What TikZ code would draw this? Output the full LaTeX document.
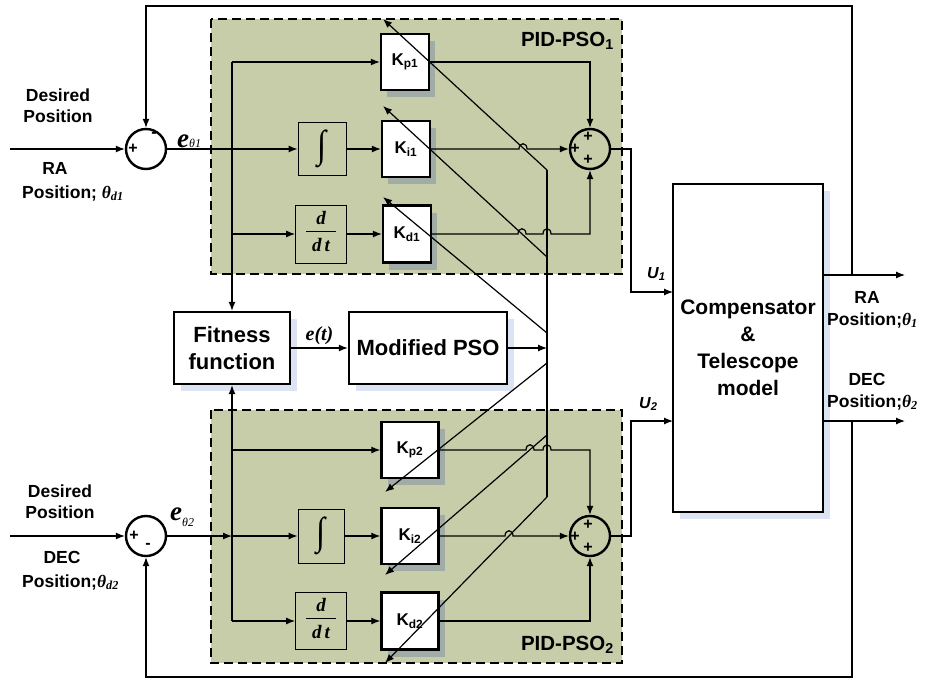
\documentclass[tikz,border=0pt]{standalone}
\usepackage{fontspec}
\usepackage{graphicx}
\setmainfont{Liberation Sans}
\newfontfamily\tms{Liberation Serif}
\usetikzlibrary{arrows.meta,shadows}
\definecolor{pidgreen}{RGB}{198,205,168}
\definecolor{greenshade}{RGB}{160,172,165}
\definecolor{blueshade}{RGB}{220,227,242}
\newcommand{\thv}[1]{{\tms\itshape θ}\textsubscript{\tms\itshape #1}}
\newcommand{\ddt}{\tms\bfseries\itshape\fontsize{19}{19}\selectfont
  \begin{tabular}{@{\hspace{6pt}}c@{\hspace{6pt}}}d\rule[-7pt]{0pt}{7pt}\\\hline\rule{0pt}{20pt}d\,t\end{tabular}}
\newcommand{\intg}{\resizebox*{9pt}{38pt}{\tms ∫}}

\tikzset{
  wire/.style={line width=1.2pt},
  arr/.style={wire,-{Latex[length=9pt,width=7pt]}},
  gainbox/.style={draw,line width=2.4pt,fill=white,inner sep=0pt,
    font=\bfseries\fontsize{17}{17}\selectfont,
    drop shadow={shadow xshift=6pt,shadow yshift=-7pt,fill=greenshade,opacity=1}},
  opbox/.style={draw,line width=0.8pt,fill=pidgreen,inner sep=0pt},
  bigbox/.style={draw,line width=2.4pt,fill=white,align=center,
    font=\bfseries\fontsize{22}{27}\selectfont,
    drop shadow={shadow xshift=7pt,shadow yshift=-7pt,fill=blueshade,opacity=1}},
  sumnode/.style={circle,draw,line width=2.4pt,minimum size=40,inner sep=0pt},
  sign/.style={font=\bfseries\fontsize{16}{16}\selectfont,inner sep=0pt},
  lab/.style={font=\bfseries\fontsize{17.5}{21}\selectfont,inner sep=0pt,align=center},
  pidbox/.style={fill=pidgreen,draw,line width=1.6pt,dash pattern=on 9pt off 5pt},
  pidlab/.style={font=\bfseries\fontsize{20.5}{20.5}\selectfont,inner sep=0pt,anchor=base east},
  ulab/.style={font=\bfseries\itshape\fontsize{16}{16}\selectfont,inner sep=0pt,anchor=base west}
}

\begin{document}
\begin{tikzpicture}[x=1pt,y=-1pt]
  \useasboundingbox (0,0) rectangle (944,680);

  % PID-PSO areas
  \draw[pidbox] (211,19) rectangle (622,274);
  \draw[pidbox] (211,410) rectangle (622,663);
  \node[pidlab] (pid1) at (614,46) {PID-PSO\textsubscript{1}};
  \node[pidlab] (pid2) at (614,650) {PID-PSO\textsubscript{2}};

  % blocks
  \node[sumnode,fill=white] (sum1) at (146,149) {};
  \node[sumnode,fill=white] (sum2) at (146,536) {};
  \node[sumnode] (add1) at (590,149) {};
  \node[sumnode] (add2) at (590,536) {};

  \node[opbox,minimum width=48,minimum height=53] (int1) at (322,149) {\intg};
  \node[opbox,minimum width=51,minimum height=58] (der1) at (321,234) {\ddt};
  \node[opbox,minimum width=46,minimum height=54] (int2) at (321,536) {\intg};
  \node[opbox,minimum width=51,minimum height=57] (der2) at (321,621) {\ddt};

  \node[gainbox,minimum width=48,minimum height=56] (kp1) at (405,62) {K\textsubscript{p1}};
  \node[gainbox,minimum width=48,minimum height=56] (ki1) at (406,149) {K\textsubscript{i1}};
  \node[gainbox,minimum width=48,minimum height=57] (kd1) at (407,234) {K\textsubscript{d1}};
  \node[gainbox,minimum width=57,minimum height=56] (kp2) at (410,450) {K\textsubscript{p2}};
  \node[gainbox,minimum width=57,minimum height=56] (ki2) at (410,536) {K\textsubscript{i2}};
  \node[gainbox,minimum width=57,minimum height=57] (kd2) at (410,621) {K\textsubscript{d2}};

  \node[bigbox,minimum width=116,minimum height=72] (fit) at (232,348) {Fitness\\function};
  \node[bigbox,minimum width=158,minimum height=72] (pso) at (428,348) {Modified PSO};
  \node[bigbox,minimum width=150,minimum height=328,font=\bfseries\fontsize{21}{27}\selectfont] (plant) at (748,348)
    {Compensator\\\&\\Telescope\\model};

  % signs
  \node[sign] (sum1p) at (133,149) {+};
  \node[sign] (sum1m) at (154,135) {-};
  \node[sign] (sum2p) at (134,536) {+};
  \node[sign] (sum2m) at (148,546) {-};
  \node[sign] (add1a) at (588,137) {+};
  \node[sign] (add1b) at (575,149) {+};
  \node[sign] (add1c) at (588,160) {+};
  \node[sign] (add2a) at (588,525) {+};
  \node[sign] (add2b) at (575,537) {+};
  \node[sign] (add2c) at (588,548) {+};

  % points
  \coordinate (in1) at (10,149);
  \coordinate (in2) at (10,536);
  \coordinate (busA) at (547,170);
  \coordinate (bki1) at (547,257);
  \coordinate (bkd1) at (547,333);
  \coordinate (bkp2) at (547,363);
  \coordinate (bki2) at (547,435);
  \coordinate (busB) at (547,497);
  \coordinate (tp1) at (383,19);
  \coordinate (ti1) at (383,106);
  \coordinate (td1) at (383,197);
  \coordinate (tp2) at (385,492);
  \coordinate (ti2) at (385,575);
  \coordinate (td2) at (385,663);
  \coordinate (u1) at (673,292);
  \coordinate (u2) at (673,421);
  \coordinate (ratap) at (852,275);
  \coordinate (dectap) at (852,421);
  \coordinate (raend) at (905,275);
  \coordinate (decend) at (905,421);
  \coordinate (top) at (852,6);
  \coordinate (bot) at (852,677);

  % upper loop
  \draw[arr] (in1) -- (sum1);
  \draw[arr] (sum1) -- (int1);
  \draw[arr] (fit.north |- kp1) -- (kp1);
  \draw[arr] (fit.north |- kp1) -- (fit);
  \draw[arr] (fit.north |- der1) -- (der1);
  \draw[arr] (int1) -- (ki1);
  \draw[arr] (der1) -- (kd1);
  \draw[arr] (kp1) -| (add1);
  \draw[arr] (ki1) -- (519,149) .. controls (519,142) and (527,142) .. (527,149) -- (add1);
  \draw[arr] (kd1) -- (518,234) .. controls (518,227) and (526,227) .. (526,234)
    -- (543,234) .. controls (543,227) and (551,227) .. (551,234) -| (add1);
  \draw[arr] (add1) -- ++(41,0) |- (u1);

  % lower loop
  \draw[arr] (in2) -- (sum2);
  \draw[arr] (sum2) -- (fit.south |- sum2);
  \draw[arr] (fit.south |- sum2) -- (int2);
  \draw[arr] (fit.south |- der2) -- (fit);
  \draw[arr] (fit.south |- kp2) -- (kp2);
  \draw[arr] (fit.south |- der2) -- (der2);
  \draw[arr] (int2) -- (ki2);
  \draw[arr] (der2) -- (kd2);
  \draw[arr] (kp2) -- (526,450) .. controls (526,443) and (534,443) .. (534,450)
    -- (543,450) .. controls (543,443) and (551,443) .. (551,450) -| (add2);
  \draw[arr] (ki2) -- (505,536) .. controls (505,529) and (513,529) .. (513,536) -- (add2);
  \draw[arr] (kd2) -| (add2);
  \draw[arr] (add2) -- ++(41,0) |- (u2);

  % optimiser and gain tuning
  \draw[arr] (fit) -- node[above=3pt,inner sep=0pt,font=\tms\bfseries\itshape\fontsize{20}{20}\selectfont] (et) {e(t)} (pso);
  \draw[wire] (busA) -- (busB);
  \draw[arr] (pso) -- (pso -| busA);
  \draw[arr] (busA) -- (tp1);
  \draw[arr] (bki1) -- (ti1);
  \draw[arr] (bkd1) -- (td1);
  \draw[arr] (bkp2) -- (tp2);
  \draw[arr] (bki2) -- (ti2);
  \draw[arr] (busB) -- (td2);

  % plant outputs and feedback
  \draw[arr] (plant.east |- raend) -- (raend);
  \draw[arr] (plant.east |- decend) -- (decend);
  \draw[arr] (ratap) -- (top) -| (sum1);
  \draw[arr] (dectap) -- (bot) -| (sum2);

  % labels
  \node[lab] (des1) at (58,106) {Desired\\Position};
  \node[lab,anchor=base] (ra1) at (55,174) {RA};
  \node[lab,anchor=base west] (ra1pos) at (22,198) {Position; \thv{d1}};
  \node[lab] (des2) at (60,502) {Desired\\Position};
  \node[lab,anchor=base] (dec2) at (62,563) {DEC};
  \node[lab,anchor=base west] (dec2pos) at (22,587) {Position;\thv{d2}};
  \node[inner sep=0pt,anchor=base west] (eth1) at (177,147)
    {{\tms\bfseries\itshape\fontsize{27}{27}\selectfont e}{\tms\itshape\fontsize{12}{12}\selectfont θ1}};
  \node[inner sep=0pt,anchor=base west] (eth2) at (170,520)
    {{\tms\bfseries\itshape\fontsize{27}{27}\selectfont e}{\tms\itshape\fontsize{12}{12}\selectfont\raisebox{-6pt}{θ2}}};
  \node[ulab] (u1lab) at (647,278) {U\textsubscript{1}};
  \node[ulab] (u2lab) at (639,408) {U\textsubscript{2}};
  \node[lab,anchor=base] (raout) at (867,303) {RA};
  \node[lab,anchor=base west] (raoutpos) at (827,325) {Position;\thv{1}};
  \node[lab,anchor=base] (decout) at (867,385) {DEC};
  \node[lab,anchor=base west] (decoutpos) at (827,407) {Position;\thv{2}};
\end{tikzpicture}
\end{document}
